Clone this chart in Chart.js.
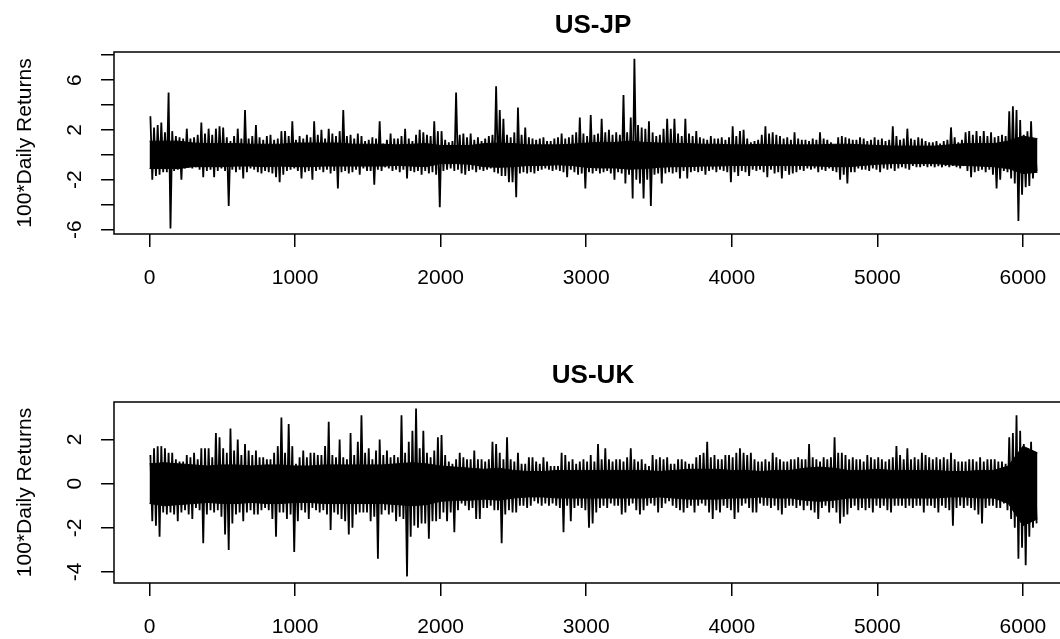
<!DOCTYPE html>
<html>
<head>
<meta charset="utf-8">
<title>US-JP / US-UK daily returns</title>
<script src="https://cdn.jsdelivr.net/npm/chart.js@4.4.0/dist/chart.umd.min.js"></script>
<style>
	html, body { margin: 0; padding: 0; background: #fff; overflow: hidden; width: 1060px; height: 639px; }
	.pnl { position: absolute; left: 0; }
</style>
</head>
<body>
<div class="pnl" style="top:0px"><canvas id="chartJP" width="1186" height="290"></canvas></div>
<div class="pnl" style="top:350px"><canvas id="chartUK" width="1186" height="289"></canvas></div>
<script>
//Observaciones por bloque: hi/lo = maximo y minimo de cada bloque de 25 dias
var BIN = 25;
//Banda central (zona densa) cada 100 dias, x = 0, 100, ..., 6100
var CORE_STEP = 100;

var xTicks = [0, 1000, 2000, 3000, 4000, 5000, 6000];

var jpTicks = [-6, -4, -2, 0, 2, 4, 6, 8];
var jpTickLabels = [-6, -2, 2, 6];
var ukTicks = [-4, -2, 0, 2];
var ukTickLabels = [-4, -2, 0, 2];

//US-JP
var jpHi = [
	3.1,2.2,2.4,2.6,1.8,5.0,1.9,1.5,1.4,1.3,2.1,1.3,1.4,1.6,2.6,1.7,2.1,1.6,2.1,2.3,
	2.2,1.4,1.1,1.5,2.1,1.3,3.6,1.3,1.5,2.4,1.4,1.2,1.5,1.6,1.2,1.3,1.9,1.9,1.5,2.7,
	1.2,1.5,1.3,1.6,1.4,2.7,1.6,2.0,1.3,2.1,1.7,1.5,1.9,3.6,1.5,1.6,1.3,1.7,1.5,1.1,
	1.2,1.4,1.3,2.7,0.9,1.2,1.7,1.3,1.3,1.5,2.1,1.3,1.1,1.6,2.0,1.8,1.6,1.5,2.7,1.9,
	1.9,1.2,1.0,1.1,5.0,1.6,1.7,1.4,1.7,1.2,1.4,1.1,1.3,1.5,1.6,5.5,3.6,2.9,1.6,1.4,
	1.8,3.8,1.6,2.2,1.4,1.3,1.2,1.3,1.4,1.1,1.1,1.3,1.4,1.7,1.3,1.4,1.6,1.8,3.0,1.7,
	1.5,3.2,1.6,1.7,2.9,1.8,2.0,1.6,1.8,1.6,4.8,1.8,3.0,7.7,2.4,2.2,2.1,2.7,1.8,1.5,
	1.6,2.1,2.9,2.1,2.9,1.7,1.5,2.9,1.7,1.5,1.9,1.4,1.3,1.2,1.5,1.3,1.3,1.4,1.2,1.4,
	2.3,1.5,1.9,2.0,1.3,1.0,1.1,1.2,1.6,2.3,1.7,1.8,1.6,1.5,1.3,1.4,1.2,1.8,1.3,1.2,
	1.2,1.1,1.3,1.2,1.8,1.3,1.2,1.0,0.8,1.4,1.5,1.4,1.3,1.2,1.2,1.4,1.3,1.1,1.2,1.4,
	1.2,1.3,1.1,1.2,2.3,1.5,1.2,1.3,2.1,1.3,1.2,1.4,1.3,1.1,1.0,1.0,1.1,0.9,1.1,1.2,
	2.2,1.4,1.0,1.2,1.8,1.9,1.6,1.9,1.5,1.9,1.5,1.8,1.4,1.5,1.6,1.5,3.5,3.9,3.6,2.8,1.6,1.9,2.7,1.1
];
var jpLo = [
	-2.0,-1.7,-1.6,-1.4,-1.4,-5.9,-1.3,-1.2,-2.0,-1.1,-1.0,-1.1,-1.0,-1.2,-1.8,-1.3,-1.2,-1.8,-1.3,-1.1,
	-1.3,-4.1,-1.2,-1.4,-1.2,-1.9,-1.4,-1.1,-1.2,-1.4,-1.5,-1.3,-1.4,-1.5,-1.8,-2.2,-1.6,-1.3,-1.2,-1.1,
	-1.3,-1.9,-1.4,-1.3,-2.0,-1.3,-1.2,-1.4,-1.2,-1.5,-1.3,-2.7,-1.4,-1.3,-1.5,-1.4,-1.2,-1.6,-1.1,-1.3,
	-1.3,-2.4,-1.2,-1.3,-1.0,-1.1,-1.3,-1.2,-1.4,-1.2,-1.9,-1.3,-1.4,-1.3,-1.6,-1.3,-1.5,-1.4,-1.6,-4.2,
	-1.3,-1.2,-1.1,-1.3,-1.2,-1.5,-1.6,-1.3,-1.2,-1.4,-1.2,-1.3,-1.2,-1.1,-1.4,-1.5,-1.7,-1.7,-2.2,-2.2,
	-3.4,-1.5,-1.4,-1.5,-1.4,-1.5,-1.3,-1.2,-1.1,-1.2,-1.3,-1.2,-1.3,-1.4,-1.8,-1.2,-1.4,-1.6,-1.5,-2.7,
	-1.4,-1.5,-1.3,-1.5,-1.4,-1.3,-1.5,-2.0,-1.4,-1.5,-2.3,-1.6,-3.5,-2.0,-2.3,-3.5,-2.0,-4.1,-1.6,-1.5,
	-2.3,-1.5,-1.4,-1.5,-1.4,-1.9,-1.3,-1.9,-1.4,-1.3,-1.4,-1.3,-1.6,-1.3,-1.2,-1.4,-1.2,-1.3,-1.4,-2.2,
	-1.4,-1.7,-1.3,-1.4,-1.7,-1.2,-1.3,-1.2,-1.4,-1.8,-1.2,-1.5,-1.4,-1.9,-1.3,-1.6,-1.5,-1.4,-1.2,-1.3,
	-1.1,-1.2,-1.1,-1.4,-1.2,-1.3,-1.1,-1.3,-1.4,-2.0,-1.6,-2.3,-1.4,-1.4,-1.1,-1.2,-1.2,-1.3,-1.1,-1.2,
	-1.4,-1.1,-1.2,-1.1,-1.3,-1.1,-1.0,-1.1,-1.2,-0.9,-1.0,-1.0,-0.9,-1.0,-0.9,-1.0,-0.9,-1.0,-0.9,-1.0,
	-0.9,-1.0,-1.1,-0.9,-1.3,-1.8,-1.4,-1.3,-1.2,-1.4,-1.2,-1.6,-2.7,-2.0,-1.3,-1.4,-1.9,-2.3,-5.3,-3.2,-2.6,-2.5,-1.9,-1.3
];
var jpCoreHi = [
	1.1,1.1,1.1,0.95,0.9,0.9,0.9,0.85,0.85,0.85,0.95,0.95,0.95,0.95,0.85,0.85,0.85,0.8,0.85,0.9,
	0.75,0.75,0.75,0.9,0.95,0.9,0.8,0.8,0.8,0.85,0.95,1.0,1.0,1.1,1.0,0.95,0.9,0.9,0.85,0.85,
	0.8,0.8,0.85,0.8,0.8,0.8,0.8,0.85,0.85,0.8,0.75,0.7,0.7,0.7,0.7,0.8,0.9,0.9,0.9,1.1,1.5,1.3
];
var jpCoreLo = [
	-1.1,-1.1,-1.1,-0.95,-0.95,-0.95,-0.9,-0.9,-0.95,-0.9,-0.95,-0.95,-0.9,-0.9,-0.9,-0.9,-0.9,-0.85,-0.9,-0.95,
	-0.7,-0.7,-0.75,-0.95,-1.0,-0.95,-0.85,-0.85,-0.8,-0.85,-1.0,-1.05,-1.05,-1.15,-1.1,-1.0,-0.95,-0.95,-0.9,-0.9,
	-0.85,-0.85,-0.85,-0.85,-0.85,-0.85,-0.9,-0.95,-0.95,-0.85,-0.75,-0.7,-0.7,-0.7,-0.7,-0.8,-0.85,-0.9,-0.95,-1.1,-1.5,-1.4
];

//US-UK
var ukHi = [
	1.3,1.6,1.7,1.7,1.6,1.4,1.4,1.1,1.0,1.0,1.3,1.2,1.4,1.1,1.6,1.6,1.6,1.2,2.3,2.1,
	1.6,1.4,2.5,1.5,2.0,1.3,1.8,1.5,1.3,1.5,1.2,1.2,1.1,1.1,1.4,1.7,3.0,1.4,2.7,1.7,
	0.9,1.2,1.5,1.2,1.4,1.4,1.3,1.3,1.7,2.8,1.3,1.2,2.0,1.2,1.1,2.3,1.3,1.9,3.1,1.4,
	1.6,1.1,1.5,2.0,1.3,1.5,1.2,1.3,1.2,3.1,1.4,1.9,2.4,3.4,1.6,2.4,1.4,1.2,1.5,2.1,
	2.2,1.3,1.0,0.9,1.1,1.4,1.2,1.1,1.1,1.5,1.1,1.1,1.0,1.1,1.9,1.8,1.4,1.1,2.1,1.1,
	1.0,1.4,0.9,0.9,1.2,1.2,1.0,0.9,1.2,1.0,0.8,0.8,0.8,1.4,1.3,1.0,1.1,0.9,1.0,1.1,
	1.0,1.3,1.0,1.8,1.1,1.6,1.1,1.0,1.1,1.1,1.0,1.2,1.6,1.1,1.0,1.1,0.9,0.8,1.3,1.1,
	1.2,1.1,1.2,0.9,0.9,1.1,1.1,1.0,0.9,0.9,1.2,1.3,1.4,1.9,1.2,1.3,1.1,1.1,1.3,1.3,
	1.2,1.4,1.6,1.4,1.3,1.4,1.1,1.0,1.0,1.1,1.0,1.4,1.2,1.1,1.0,1.0,1.1,1.1,1.2,1.1,
	1.1,1.8,1.2,1.1,1.0,1.2,1.1,1.2,2.1,1.4,1.4,1.3,1.1,1.2,1.1,1.1,1.0,1.3,1.2,1.1,
	1.2,1.1,1.0,1.1,1.2,1.7,1.3,1.1,1.6,1.1,1.2,1.1,1.4,1.3,1.2,1.1,1.2,1.1,1.2,1.1,
	1.4,1.1,1.0,1.0,1.0,1.1,1.1,1.0,1.2,1.0,1.1,1.1,1.1,1.0,1.0,0.9,2.1,2.3,3.1,2.4,1.8,1.6,1.9,1.0
];
var ukLo = [
	-1.7,-1.9,-2.4,-1.3,-1.4,-1.3,-1.4,-1.7,-1.3,-1.2,-1.4,-1.6,-1.1,-1.2,-2.7,-1.4,-1.2,-1.3,-1.2,-1.5,
	-2.3,-3.0,-1.8,-1.4,-1.3,-1.7,-1.3,-1.2,-1.4,-1.4,-1.2,-1.1,-1.2,-1.6,-2.4,-1.3,-1.3,-1.6,-1.4,-3.1,
	-1.7,-1.2,-1.3,-1.6,-1.1,-1.2,-1.3,-1.2,-1.4,-2.1,-1.3,-1.4,-1.6,-1.7,-2.3,-2.0,-1.4,-1.3,-1.3,-1.3,
	-1.7,-1.5,-3.4,-1.4,-1.2,-1.4,-1.3,-1.7,-1.5,-1.6,-4.2,-2.4,-1.9,-2.0,-1.8,-1.8,-2.5,-1.7,-1.7,-1.6,
	-1.3,-1.7,-1.3,-2.2,-1.2,-0.9,-1.0,-1.2,-1.1,-1.6,-1.6,-1.1,-1.1,-1.0,-1.2,-1.2,-2.7,-1.4,-1.2,-1.3,
	-1.3,-1.0,-1.0,-1.1,-1.0,-0.8,-0.9,-1.0,-0.9,-1.0,-0.9,-1.0,-1.1,-2.2,-1.0,-1.7,-1.1,-1.0,-1.1,-1.2,
	-2.0,-1.8,-1.3,-1.1,-1.0,-1.1,-0.9,-1.0,-1.0,-1.4,-1.3,-1.0,-0.9,-1.2,-1.4,-1.2,-1.0,-0.9,-1.0,-1.3,
	-1.1,-0.9,-0.8,-1.0,-1.1,-1.2,-1.3,-1.1,-1.0,-1.3,-1.0,-0.9,-1.0,-1.3,-1.6,-1.2,-1.3,-1.0,-1.1,-1.2,
	-1.6,-1.3,-1.0,-0.9,-1.1,-1.3,-1.3,-0.9,-1.0,-1.0,-1.1,-1.0,-1.2,-1.4,-1.1,-1.0,-1.0,-1.1,-1.0,-1.2,
	-1.0,-1.2,-1.3,-1.6,-1.1,-1.0,-1.3,-1.1,-1.3,-1.8,-1.5,-1.4,-1.1,-1.0,-1.2,-1.1,-1.2,-1.1,-1.3,-1.0,
	-1.1,-1.0,-1.2,-1.3,-1.0,-1.0,-1.0,-1.1,-1.0,-1.1,-1.0,-1.0,-1.3,-1.0,-1.0,-1.1,-1.3,-1.0,-1.1,-1.2,
	-1.9,-1.1,-1.0,-1.1,-1.0,-1.1,-1.2,-1.4,-1.8,-1.1,-1.0,-1.0,-1.1,-1.1,-0.9,-1.2,-1.6,-2.0,-3.4,-2.9,-3.7,-2.4,-2.0,-1.8
];
var ukCoreHi = [
	0.9,0.95,0.9,0.85,0.8,0.85,0.85,0.8,0.85,0.85,0.8,0.8,0.85,0.85,0.85,0.85,0.85,0.9,0.95,0.9,
	0.8,0.75,0.7,0.65,0.7,0.6,0.55,0.55,0.6,0.6,0.6,0.6,0.6,0.6,0.6,0.55,0.6,0.65,0.65,0.65,
	0.6,0.6,0.55,0.6,0.6,0.7,0.75,0.7,0.6,0.6,0.65,0.6,0.6,0.6,0.6,0.55,0.55,0.6,0.6,0.8,1.7,1.4
];
var ukCoreLo = [
	-0.9,-1.0,-0.95,-0.9,-0.85,-0.9,-0.9,-0.85,-0.9,-0.9,-0.85,-0.85,-0.9,-0.9,-0.9,-0.9,-0.9,-0.95,-1.0,-0.95,
	-0.8,-0.75,-0.75,-0.7,-0.75,-0.65,-0.6,-0.6,-0.65,-0.65,-0.65,-0.65,-0.65,-0.65,-0.65,-0.6,-0.65,-0.7,-0.7,-0.7,
	-0.65,-0.65,-0.6,-0.65,-0.65,-0.75,-0.8,-0.75,-0.65,-0.65,-0.65,-0.65,-0.65,-0.65,-0.65,-0.6,-0.6,-0.65,-0.65,-0.9,-1.9,-1.6
];

var FONT = "'Liberation Sans', Arial, Helvetica, sans-serif";

//Marco completo del grafico, como el box() de R
var boxPlugin = {
	id: 'rBox',
	afterDraw: function(chart) {
		var a = chart.chartArea;
		var ctx = chart.ctx;
		ctx.save();
		ctx.strokeStyle = '#000';
		ctx.lineWidth = 1.5;
		ctx.strokeRect(a.left, a.top, a.right - a.left, a.bottom - a.top);
		ctx.restore();
	}
};

function tickList(vals) {
	return function(scale) {
		scale.ticks = vals.map(function(v) { return { value: v }; });
	};
}

function panel(id, title, hi, lo, coreHi, coreLo, yMin, yMax, yTicks, yLabels) {
	//Serie en zigzag: maximo y minimo de cada bloque, en orden
	var path = [];
	for (var i = 0; i < hi.length; i++) {
		path.push({ x: i * BIN + 6, y: hi[i] });
		path.push({ x: i * BIN + 19, y: lo[i] });
	}
	var top = [], bot = [];
	for (var j = 0; j < coreHi.length; j++) {
		top.push({ x: j * CORE_STEP, y: coreHi[j] });
		bot.push({ x: j * CORE_STEP, y: coreLo[j] });
	}

	var grid = { drawOnChartArea: false, drawTicks: true, tickLength: 13, color: '#000', lineWidth: 1.5, offset: false };

	return new Chart(document.getElementById(id).getContext('2d'), {
		type: 'line',
		data: {
			datasets: [
				{ data: top, borderColor: '#000', borderWidth: 1, pointRadius: 0, fill: false },
				{ data: bot, borderColor: '#000', borderWidth: 1, pointRadius: 0, fill: '-1', backgroundColor: '#000' },
				{ data: path, borderColor: '#000', borderWidth: 1.8, pointRadius: 0, fill: false, tension: 0, borderJoinStyle: 'miter' }
			]
		},
		options: {
			responsive: false,
			animation: false,
			events: [],
			layout: { padding: 0 },
			plugins: {
				legend: { display: false },
				tooltip: { enabled: false },
				title: {
					display: true, text: title, color: '#000',
					font: { family: FONT, size: 26, weight: 'bold' },
					padding: { top: 10, bottom: 10.8 }
				}
			},
			scales: {
				x: {
					type: 'linear', min: -244, max: 6344, offset: false,
					afterBuildTicks: tickList(xTicks),
					afterFit: function(s) { s.height = 56; },
					grid: grid,
					border: { display: false },
					ticks: {
						autoSkip: false, maxRotation: 0, padding: 19, color: '#000',
						font: { family: FONT, size: 21 },
						callback: function(v) { return String(v); }
					}
				},
				y: {
					type: 'linear', min: yMin, max: yMax, beginAtZero: false,
					afterBuildTicks: tickList(yTicks),
					afterFit: function(s) { s.width = 114; },
					grid: grid,
					border: { display: false },
					ticks: {
						autoSkip: false, minRotation: 90, maxRotation: 90, crossAlign: 'center', padding: 16, color: '#000',
						font: { family: FONT, size: 21 },
						callback: function(v) { return yLabels.indexOf(v) >= 0 ? String(v) : ''; }
					},
					title: {
						display: true, text: '100*Daily Returns', color: '#000',
						font: { family: FONT, size: 21 },
						padding: { top: 13, bottom: 0 }
					}
				},
				//Margen derecho vacio para que el titulo quede centrado sobre el area de trazado
				yR: {
					type: 'linear', position: 'right', display: true,
					afterFit: function(s) { s.width = 113; },
					grid: { display: false },
					border: { display: false },
					ticks: { display: false }
				}
			}
		},
		plugins: [boxPlugin]
	});
}

panel('chartJP', 'US-JP', jpHi, jpLo, jpCoreHi, jpCoreLo, -6.35, 8.25, jpTicks, jpTickLabels);
panel('chartUK', 'US-UK', ukHi, ukLo, ukCoreHi, ukCoreLo, -4.5, 3.7, ukTicks, ukTickLabels);
</script>
</body>
</html>
